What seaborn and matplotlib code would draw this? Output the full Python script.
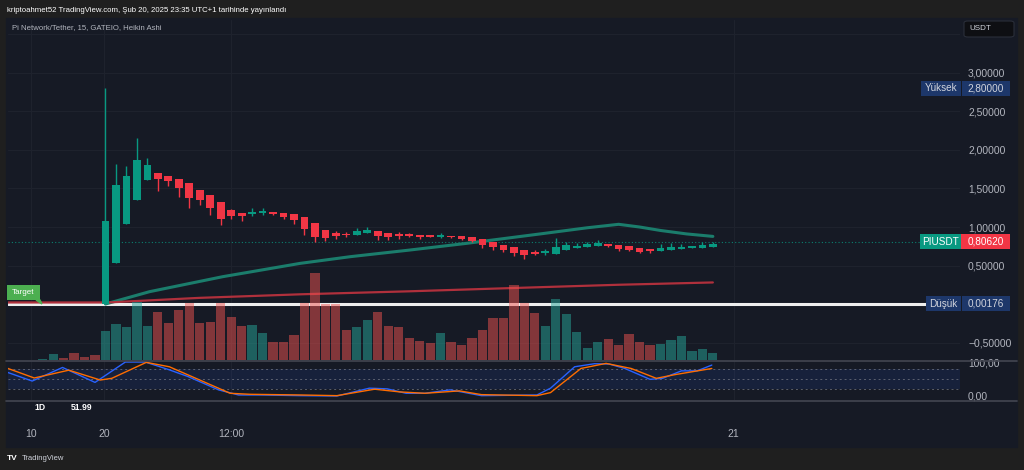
import numpy as np
import pandas as pd
import matplotlib.pyplot as plt
import seaborn as sns
from matplotlib.patches import Rectangle, FancyBboxPatch, Polygon
from matplotlib.lines import Line2D

W, H = 1024, 470
OUTER = "#1f1f1f"
PANEL = "#161a25"
UP = "#089981"
DOWN = "#f23645"
NAVY = "#1d376a"
TXT = "#b2b5be"

# Heikin Ashi candles (bar index)
candle_idx = list(range(59))
ha_open = [0.00, 0.53, 1.04, 1.35, 1.61, 1.705, 1.66, 1.62, 1.567, 1.477,
           1.41, 1.33, 1.22, 1.186, 1.17, 1.18, 1.195, 1.186, 1.165, 1.13,
           1.056, 0.96, 0.918, 0.915, 0.90, 0.918, 0.944, 0.918, 0.905, 0.90,
           0.892, 0.883, 0.87, 0.883, 0.879, 0.866, 0.844, 0.805, 0.766, 0.744,
           0.70, 0.675, 0.658, 0.653, 0.697, 0.723, 0.74, 0.757, 0.779, 0.770,
           0.749, 0.73, 0.71, 0.688, 0.705, 0.714, 0.727, 0.727, 0.744]
ha_close = [1.08, 1.55, 1.66, 1.87, 1.80, 1.62, 1.60, 1.50, 1.38, 1.347,
            1.25, 1.11, 1.147, 1.147, 1.20, 1.21, 1.17, 1.134, 1.087, 0.978,
            0.874, 0.86, 0.888, 0.89, 0.944, 0.965, 0.883, 0.87, 0.888, 0.883,
            0.866, 0.87, 0.892, 0.866, 0.848, 0.818, 0.77, 0.736, 0.70, 0.662,
            0.64, 0.65, 0.684, 0.744, 0.766, 0.757, 0.779, 0.796, 0.757, 0.718,
            0.70, 0.68, 0.684, 0.723, 0.74, 0.74, 0.74, 0.766, 0.779]
ha_high = [2.80, 1.82, 1.79, 2.16, 1.90, 1.705, 1.66, 1.62, 1.567, 1.477,
           1.41, 1.33, 1.24, 1.186, 1.25, 1.25, 1.195, 1.186, 1.165, 1.13,
           1.056, 0.96, 0.95, 0.93, 0.99, 1.00, 0.944, 0.918, 0.935, 0.92,
           0.892, 0.883, 0.92, 0.883, 0.879, 0.866, 0.844, 0.805, 0.766, 0.744,
           0.70, 0.70, 0.71, 0.86, 0.81, 0.79, 0.81, 0.83, 0.779, 0.770,
           0.749, 0.73, 0.71, 0.78, 0.79, 0.78, 0.75, 0.80, 0.81]
ha_low = [0.002, 0.53, 1.04, 1.35, 1.61, 1.47, 1.53, 1.39, 1.25, 1.29,
          1.16, 1.02, 1.10, 1.08, 1.147, 1.16, 1.16, 1.10, 1.04, 0.89,
          0.80, 0.82, 0.85, 0.87, 0.90, 0.918, 0.835, 0.835, 0.85, 0.865,
          0.85, 0.865, 0.86, 0.86, 0.835, 0.80, 0.73, 0.70, 0.67, 0.627,
          0.59, 0.63, 0.64, 0.653, 0.697, 0.723, 0.74, 0.757, 0.745, 0.692,
          0.69, 0.658, 0.665, 0.688, 0.705, 0.714, 0.727, 0.727, 0.744]

# volume (millions), U = up bar, D = down bar
vol_idx = list(range(-6, 59))
volume = [0.1, 0.6, 0.25, 0.75, 0.35, 0.55,
          2.9, 3.65, 3.35, 5.8, 3.45, 4.8, 3.7, 5.0, 5.7, 3.75,
          3.8, 5.7, 4.3, 3.45, 3.5, 2.7, 1.85, 1.8, 2.5, 5.7,
          8.7, 5.6, 5.6, 3.0, 3.35, 4.0, 4.8, 3.45, 3.35, 2.25,
          1.9, 1.7, 2.7, 1.8, 1.55, 2.2, 3.0, 4.2, 4.2, 7.5,
          5.7, 4.7, 3.4, 6.1, 4.6, 2.8, 1.2, 1.8, 2.1, 1.55,
          2.6, 1.8, 1.5, 1.65, 2.0, 2.45, 0.95, 1.1, 0.7]
vol_dir = "UUDDDD" + "UUUUU" + "DDDDDDDDD" + "UU" + "DDDDDDDD" + "UU" + \
          "DDDDDD" + "U" + "DDDDDDDDD" + "UUUUUU" + "DDDDD" + "UUUUUU"

# moving averages
ma_fast_idx = [0, 4.2, 11.2, 18.6, 23.4, 29, 34.5, 41.5, 46, 49, 51, 53, 55.5, 58]
ma_fast = [0.0, 0.16, 0.355, 0.528, 0.615, 0.70, 0.788, 0.91, 0.99, 1.035,
           1.0, 0.955, 0.91, 0.878]
ma_slow_idx = [-9.3, -0.3, 0.5, 9, 18.6, 29, 39, 49, 58]
ma_slow = [0.02, 0.02, 0.022, 0.08, 0.126, 0.165, 0.208, 0.25, 0.28]

# stochastic RSI
stoch_k_idx = [-9.4, -7.0, -4.1, -1.0, 1.9, 3.8, 6.0, 7.9, 10.8, 12.7, 14.9, 18.6,
               22.1, 25.2, 26.9, 28.7, 30.5, 32.9, 34.0, 35.9, 41.2, 42.5, 44.8,
               46.7, 48.1, 49.6, 52.0, 53.2, 55.0, 56.5, 57.9]
stoch_k = [70, 44, 84, 40, 100, 100, 78, 57, 18, 3, 3, 1, 0, 23, 21, 8, 8, 18, 12,
           1, 3, 23, 86, 95, 94, 81, 49, 52, 74, 74, 91]
stoch_d_idx = [-9.4, -6.8, -3.5, -0.5, 0.6, 3.9, 6.1, 9.0, 11.9, 13.8, 18.6, 22.1,
               25.7, 28.1, 30.5, 33.8, 35.9, 41.2, 42.5, 45.4, 47.8, 50.2, 52.6,
               54.4, 57.9]
stoch_d = [82, 53, 76, 47, 52, 99, 86, 47, 8, 5, 3, 1, 20, 12, 8, 15, 4, 1, 10, 81,
           96, 81, 52, 63, 81]

price_ticks = [3.0, 2.5, 2.0, 1.5, 1.0, 0.5, -0.5]
grid_levels = [-0.5, 0.0, 0.5, 1.0, 1.5, 2.0, 2.5, 3.0, 3.5]
time_ticks = [-7.1, -0.1, 12.0, 60.0]
time_labels = ["10", "20", "12:00", "21"]
high_val = 2.8
low_val = 0.00176
last_val = 0.8062


def fx(px):
    return px / W


def fy(py):
    return 1 - py / H


def fmt(v, nd=5):
    return f"{v:.{nd}f}".replace(".", ",").replace("-", "\u2212")


sns.set_theme(style="dark", rc={"axes.facecolor": PANEL, "figure.facecolor": OUTER})
plt.rcParams["font.family"] = ["Liberation Sans", "DejaVu Sans"]

fig = plt.figure(figsize=(W / 100, H / 100), dpi=100)
fig.add_artist(Rectangle((fx(6), fy(447)), (1017 - 6) / W, (447 - 18) / H,
                         transform=fig.transFigure, color=PANEL, zorder=-1))

ax = fig.add_axes([fx(8), fy(360), 952 / W, 340 / H])
ax_s = fig.add_axes([fx(8), fy(400), 952 / W, 39 / H], sharex=ax)
for a in (ax, ax_s):
    a.set_facecolor(PANEL)
    for sp in a.spines.values():
        sp.set_visible(False)

ax.set_xlim(-9.31, 81.6)
ax.set_ylim(-0.727, 3.688)

# grid
for g in grid_levels:
    ax.axhline(g, color="#1e222d", lw=0.8, zorder=0)
for t in time_ticks:
    ax.axvline(t, color="#1e222d", lw=0.8, zorder=0)
    ax_s.axvline(t, color="#1e222d", lw=0.8, zorder=0)

# horizontal levels
ax.axhline(last_val, color=UP, lw=0.8, ls=(0, (1, 2)), alpha=0.8, zorder=1)
ax.axhline(low_val, color="#eeeeee", lw=2.2, zorder=2)

# moving averages
sns.lineplot(x=ma_fast_idx, y=ma_fast, ax=ax, color="#1b7d6c", lw=2.2, zorder=2.5)
sns.lineplot(x=ma_slow_idx, y=ma_slow, ax=ax, color="#b0303c", lw=1.6, zorder=2.5)

# candles
o = np.array(ha_open)
c = np.array(ha_close)
ccol = [UP if cc >= oo else DOWN for oo, cc in zip(o, c)]
ax.vlines(candle_idx, ha_low, ha_high, colors=ccol, lw=1, zorder=3)
ax.bar(candle_idx, np.maximum(np.abs(c - o), 0.02), bottom=np.minimum(o, c),
       width=0.74, color=ccol, lw=0, zorder=4)

# volume overlay
ax_v = ax.twinx()
vcol = ["#26a69a" if d == "U" else "#ef5350" for d in vol_dir]
ax_v.bar(vol_idx, volume, width=0.88, color=vcol, alpha=0.5, lw=0)
ax_v.set_ylim(0, 34)
ax_v.axis("off")

# price scale
ax.yaxis.tick_right()
ax.set_yticks(price_ticks)
ax.set_yticklabels([fmt(v) for v in price_ticks])
ax.tick_params(axis="y", length=0, pad=5.8, labelsize=7.4, labelcolor=TXT)
ax.tick_params(axis="x", length=0, labelbottom=False)
ax.grid(False)
ax.set_xlabel("")
ax.set_ylabel("")

# stochastic pane
ax_s.set_ylim(-11.8, 103)
ax_s.axhspan(20, 80, color="#2962ff", alpha=0.1, lw=0, zorder=0)
for lvl in (80, 50, 20):
    ax_s.axhline(lvl, color="#787b86", lw=0.7, ls=(0, (2, 3)), alpha=0.7, zorder=1)
sns.lineplot(x=stoch_k_idx, y=stoch_k, ax=ax_s, color="#2962ff", lw=1.0, zorder=3)
sns.lineplot(x=stoch_d_idx, y=stoch_d, ax=ax_s, color="#ff6d00", lw=1.0, zorder=3)
ax_s.yaxis.tick_right()
ax_s.set_yticks([100, 0])
ax_s.set_yticklabels(["100,00", "0,00"])
ax_s.tick_params(axis="y", length=0, pad=5.8, labelsize=7.4, labelcolor=TXT)
ax_s.set_xticks(time_ticks)
ax_s.set_xticklabels(time_labels)
ax_s.tick_params(axis="x", length=0, pad=21, labelsize=7.5, labelcolor=TXT)
ax_s.grid(False)
ax_s.set_xlabel("")
ax_s.set_ylabel("")
ax.set_xlim(-9.31, 81.6)

# pane separators
for yy in (360.5, 400.5):
    fig.add_artist(Line2D([fx(6), fx(1017)], [fy(yy), fy(yy)], color="#434651",
                          lw=1.2, transform=fig.transFigure, zorder=3))


def ypix(v):
    return H - ax.transData.transform((0, v))[1]


def tag(x0, x1, yc, color, text, tcolor="#d1d4dc", h=15):
    fig.add_artist(Rectangle((fx(x0), fy(yc + h / 2)), (x1 - x0) / W, h / H,
                             transform=fig.transFigure, color=color, lw=0, zorder=5))
    fig.text(fx((x0 + x1) / 2), fy(yc), text, ha="center", va="center",
             color=tcolor, fontsize=7.2, zorder=6)


yh = ypix(high_val)
tag(921, 961, yh, NAVY, "Yüksek")
tag(962, 1010, yh, NAVY, fmt(high_val))
yl = ypix(last_val)
tag(920, 961, yl, UP, "PIUSDT", "white")
tag(961, 1010, yl, DOWN, fmt(last_val), "white")
yd = ypix(low_val)
tag(926, 961, yd, NAVY, "Düşük")
tag(962, 1010, yd, NAVY, fmt(low_val))

# target label
fig.add_artist(Rectangle((fx(7), fy(300)), 33 / W, 15 / H, transform=fig.transFigure,
                         color="#4caf50", lw=0, zorder=5))
fig.add_artist(Polygon([(fx(36), fy(300)), (fx(40), fy(300)), (fx(42), fy(304))],
                       closed=True, transform=fig.transFigure, color="#4caf50", zorder=5))
fig.text(fx(23.5), fy(292.5), "Target", ha="center", va="center", color="white",
         fontsize=5.8, zorder=6)

# USDT button
fig.add_artist(FancyBboxPatch((fx(964), fy(37)), 50 / W, 16 / H,
                              boxstyle="round,pad=0,rounding_size=0.004",
                              transform=fig.transFigure, fc="#0e0f13", ec="#2a2e39",
                              lw=0.8, zorder=5))
fig.text(fx(969), fy(29), "USDT", ha="left", va="center", color="#d1d4dc",
         fontsize=5.8, zorder=6)

# headers and legends
fig.text(fx(7), fy(10), "kriptoahmet52 TradingView.com, Şub 20, 2025 23:35 UTC+1 tarihinde yayınlandı",
         ha="left", va="center", color="white", fontsize=5.6)
fig.text(fx(12), fy(28), "Pi Network/Tether, 15, GATEIO, Heikin Ashi",
         ha="left", va="center", color=TXT, fontsize=5.6)
fig.text(fx(40), fy(407), "1D", ha="center", va="center", color="white",
         fontsize=6.2, fontweight="bold")
fig.text(fx(71), fy(407), "51.99", ha="left", va="center", color="white",
         fontsize=6.2, fontweight="bold")
fig.text(fx(7), fy(459), "TV", ha="left", va="center", color="white",
         fontsize=6, fontweight="bold")
fig.text(fx(22), fy(459), "TradingView", ha="left", va="center", color="#d1d4dc",
         fontsize=5.5)

fig.savefig("out.png", dpi=100, facecolor=OUTER)
